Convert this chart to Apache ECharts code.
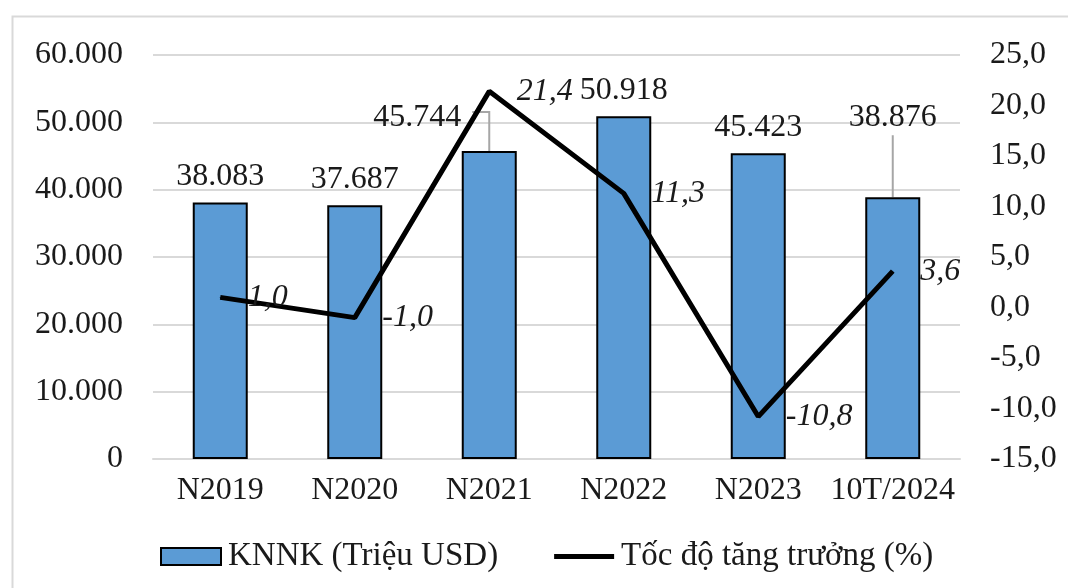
<!DOCTYPE html>
<html>
<head>
<meta charset="utf-8">
<script src="https://cdn.jsdelivr.net/npm/echarts@6/dist/echarts.min.js"></script>
<style>
html,body{margin:0;padding:0;background:#fff;}
#chart{width:1068px;height:588px;}
</style>
</head>
<body>
<div id="chart"></div>
<script>
const categories = ['N2019', 'N2020', 'N2021', 'N2022', 'N2023', '10T/2024'];
const knnk = [38083, 37687, 45744, 50918, 45423, 38876];
const growth = [1.0, -1.0, 21.4, 11.3, -10.8, 3.6];
const leftTicks = { min: 0, max: 60000, interval: 10000 };
const rightTicks = { min: -15, max: 25, interval: 5 };
const seriesNames = ['KNNK (Triệu USD)', 'Tốc độ tăng trưởng (%)'];

const FONT = '"Liberation Serif", "DejaVu Serif", serif';
const FS = 32;
const TXT = '#1a1a1a';

function fmtThousands(v) {
  return String(Math.round(v)).replace(/\B(?=(\d{3})+(?!\d))/g, '.');
}
function fmtComma(v) {
  return Number(v).toFixed(1).replace('.', ',');
}

// label displacement (style) for labels with leader lines
const labelShift = { 2: [-72, -7], 5: [0, -54] };
const barData = knnk.map((v, i) => labelShift[i]
  ? { value: v, label: { offset: labelShift[i] } }
  : v);
const leaderData = Object.keys(labelShift).map(k => [Number(k), knnk[Number(k)]]);

const chart = echarts.init(document.getElementById('chart'), null, { renderer: 'canvas' });
chart.setOption({
  animation: false,
  backgroundColor: '#fff',
  graphic: [{
    type: 'rect', left: 10, top: 14, z: -10,
    shape: { width: 1080, height: 600 },
    style: { fill: 'none', stroke: '#d9d9d9', lineWidth: 2 }
  }],
  grid: { left: 153, right: 108, top: 55, bottom: 129 },
  legend: {
    left: 155, top: 535,
    itemWidth: 60, itemHeight: 17, itemGap: 56,
    textStyle: { fontFamily: FONT, fontSize: 33, color: TXT, padding: [0, 0, 0, 2] },
    data: [
      { name: seriesNames[0], icon: 'rect' },
      { name: seriesNames[1], icon: 'path://M0,0H63V5H0Z', itemStyle: { color: '#000' } }
    ]
  },
  xAxis: {
    type: 'category',
    data: categories,
    axisLine: { show: true, lineStyle: { color: '#d9d9d9', width: 2 } },
    axisTick: { show: false },
    axisLabel: { interval: 0, fontFamily: FONT, fontSize: FS, color: TXT, margin: 16 }
  },
  yAxis: [{
    type: 'value',
    min: leftTicks.min, max: leftTicks.max, interval: leftTicks.interval,
    axisLine: { show: false }, axisTick: { show: false },
    splitLine: { lineStyle: { color: '#d9d9d9', width: 2 } },
    axisLabel: { fontFamily: FONT, fontSize: FS, color: TXT, margin: 30, formatter: fmtThousands }
  }, {
    type: 'value',
    min: rightTicks.min, max: rightTicks.max, interval: rightTicks.interval,
    axisLine: { show: false }, axisTick: { show: false },
    splitLine: { show: false },
    axisLabel: { fontFamily: FONT, fontSize: FS, color: TXT, margin: 30, formatter: fmtComma }
  }],
  series: [{
    name: seriesNames[0],
    type: 'bar',
    data: barData,
    barWidth: 55,
    itemStyle: { color: '#5B9BD5', borderColor: '#000', borderWidth: 2 },
    label: {
      show: true, position: 'top', distance: 10,
      fontFamily: FONT, fontSize: FS, color: TXT,
      formatter: p => fmtThousands(p.value)
    },
    z: 2
  }, {
    type: 'custom',
    silent: true,
    data: leaderData,
    renderItem: function (params, api) {
      const idx = api.value(0);
      const p = api.coord([idx, api.value(1)]);
      const pts = idx === 2
        ? [[p[0], p[1]], [p[0], p[1] - 39], [p[0] - 17, p[1] - 39]]
        : [[p[0], p[1]], [p[0], p[1] - 62]];
      return {
        type: 'polyline',
        shape: { points: pts },
        style: { stroke: '#a6a6a6', lineWidth: 2, fill: 'none' }
      };
    },
    z: 1
  }, {
    name: seriesNames[1],
    type: 'line',
    yAxisIndex: 1,
    data: growth,
    symbol: 'circle',
    symbolSize: 1,
    showSymbol: true,
    lineStyle: { color: '#000', width: 5 },
    itemStyle: { color: '#000' },
    label: {
      show: true, position: 'right', distance: 27,
      fontFamily: FONT, fontSize: FS, fontStyle: 'italic', color: TXT,
      formatter: p => fmtComma(p.value)
    },
    z: 3
  }]
});
</script>
</body>
</html>
